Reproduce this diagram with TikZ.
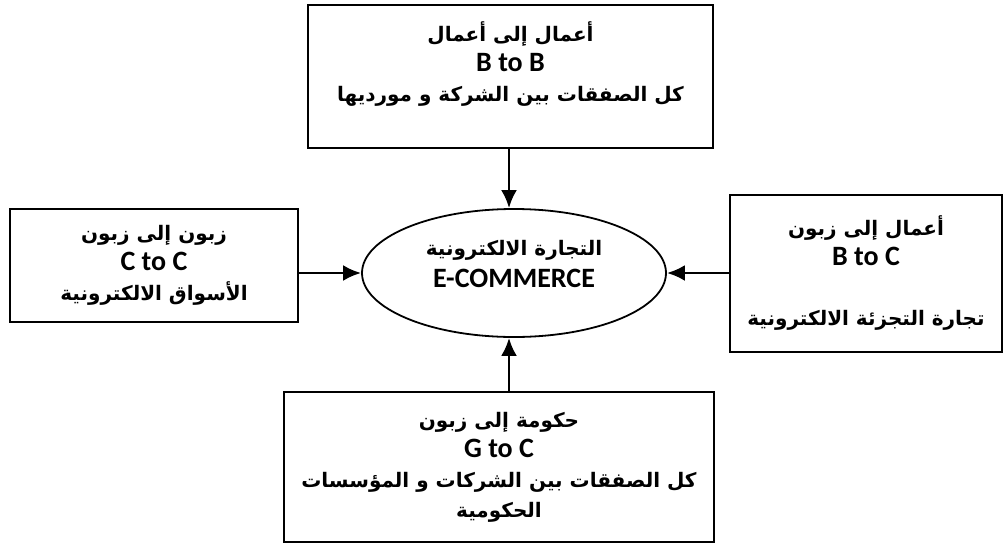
\documentclass[tikz,border=0pt]{standalone}
\usepackage{fontspec}
\usepackage{tikz}
\usetikzlibrary{shapes, positioning, arrows.meta}
\TeXXeTstate=1
\newfontfamily\arabicfont[Script=Arabic]{DejaVu Sans}
\newfontfamily\latinfont{Carlito}
\newcommand{\artxt}[1]{{\arabicfont\bfseries\beginR #1\endR}}
\newcommand{\entxt}[1]{{\latinfont\bfseries\fontsize{28}{30}\selectfont #1}}

\tikzset{
  typebox/.style={draw, line width=2.6pt, rectangle, align=center, inner sep=0pt,
    font=\fontsize{20}{30}\selectfont},
  center/.style={draw, line width=1.8pt, ellipse, align=center, inner sep=0pt,
    font=\fontsize{20}{32}\selectfont},
  link/.style={->, >={Latex[length=18pt,width=16pt]}, line width=2.8pt}
}

\begin{document}
\begin{tikzpicture}[x=1pt, y=-1pt]
                \useasboundingbox (0,0) rectangle (1005,544);

                % the five parts
                \node[center, minimum width=304pt, minimum height=128pt] (ecom) at (514,273)
                  {\artxt{التجارة الالكترونية}\\ \entxt{E-COMMERCE}\\[-14pt] ~};
                \node[typebox, minimum width=405pt, minimum height=143pt] (btob) at (510.5,76.5)
                  {\artxt{أعمال إلى أعمال}\\ \entxt{B to B}\\ \artxt{كل الصفقات بين الشركة و مورديها}\\ ~};
                \node[typebox, minimum width=288pt, minimum height=113pt] (ctoc) at (154,265.5)
                  {\artxt{زبون إلى زبون}\\ \entxt{C to C}\\ \artxt{الأسواق الالكترونية}};
                \node[typebox, minimum width=272pt, minimum height=157pt] (btoc) at (866,273.5)
                  {\artxt{أعمال إلى زبون}\\ \entxt{B to C}\\ ~\\ \artxt{تجارة التجزئة الالكترونية}};
                \node[typebox, minimum width=430pt, minimum height=150pt] (gtoc) at (499,467)
                  {\artxt{حكومة إلى زبون}\\ \entxt{G to C}\\ \artxt{كل الصفقات بين الشركات و المؤسسات}\\ \artxt{الحكومية}};

                % arrows into the centre
                \draw[link] (btob.south -| 509,0) -- (ecom.north -| 509,0);
                \draw[link] (gtoc.north -| 509,0) -- (ecom.south -| 509,0);
                \draw[link] (ecom.west -| ctoc.east) -- (ecom.west);
                \draw[link] (ecom.east -| btoc.west) -- (ecom.east);
                \end{tikzpicture}
\end{document}
